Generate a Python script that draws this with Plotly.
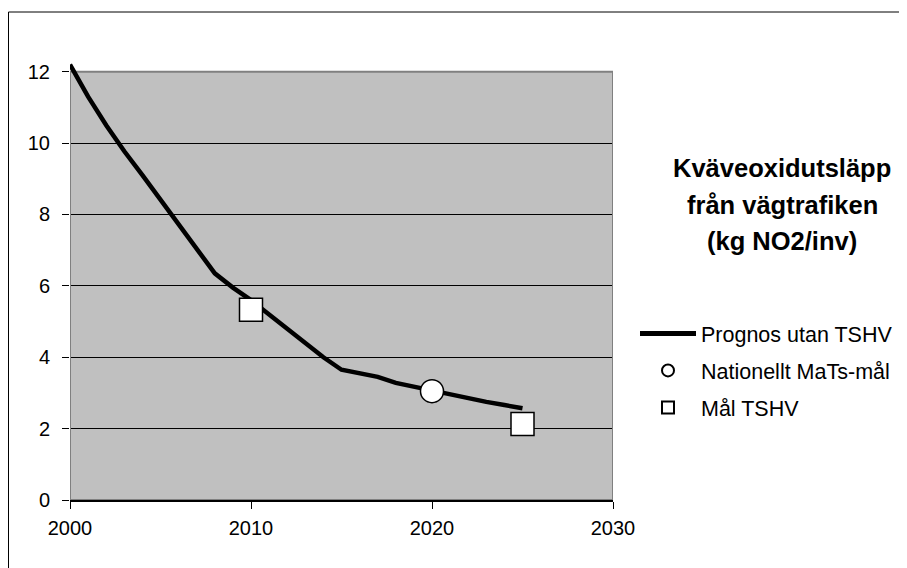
import plotly.graph_objects as go

years = [2000, 2001, 2002, 2003, 2004, 2005, 2006, 2007, 2008, 2009, 2010, 2011, 2012,
         2013, 2014, 2015, 2016, 2017, 2018, 2019, 2020, 2021, 2022, 2023, 2024, 2025]
prognos = [12.2, 11.3, 10.5, 9.77, 9.1, 8.4, 7.7, 7.05, 6.35, 5.95, 5.6, 5.2, 4.8,
           4.4, 4.0, 3.65, 3.55, 3.45, 3.28, 3.17, 3.05, 2.95, 2.84, 2.75, 2.66, 2.57]
mats_year = [2020]
mats_val = [3.05]
tshv_year = [2010, 2025]
tshv_val = [5.33, 2.13]
x_ticks = [2000, 2010, 2020, 2030]
y_ticks = [0, 2, 4, 6, 8, 10, 12]
title_lines = ["Kväveoxidutsläpp", "från vägtrafiken", "(kg NO2/inv)"]

FONT = "Liberation Sans, Arial, sans-serif"
OFF = 8  # page body margin

fig = go.Figure()
fig.add_trace(go.Scatter(x=years, y=prognos, mode="lines", name="Prognos utan TSHV",
                         line=dict(color="black", width=4.5), legendgroup="a",
                         cliponaxis=False))
fig.add_trace(go.Scatter(x=mats_year, y=mats_val, mode="markers", name="Nationellt MaTs-mål",
                         marker=dict(symbol="circle", size=23, color="white",
                                     line=dict(color="black", width=1.5)),
                         legendgroup="b", cliponaxis=False))
fig.add_trace(go.Scatter(x=tshv_year, y=tshv_val, mode="markers", name="Mål TSHV",
                         marker=dict(symbol="square", size=23, color="white",
                                     line=dict(color="black", width=1.5)),
                         legendgroup="c", cliponaxis=False))

W, H = 907 - OFF, 568 - OFF
# plot area in page coordinates
left, right, top, bottom = 70, 613, 61, 500
pw, ph = right - left, bottom - top

def px(p):
    return (p - left) / pw

def py(p):
    return (bottom - p) / ph

shapes = [
    dict(type="rect", xref="x", yref="y", x0=2000, x1=2030, y0=0, y1=12,
         fillcolor="#C0C0C0", line=dict(width=0), layer="below"),
    dict(type="rect", xref="x", yref="y", x0=2000, x1=2030, y0=0, y1=12,
         fillcolor="rgba(0,0,0,0)", line=dict(color="#808080", width=2), layer="between"),
    dict(type="line", xref="paper", yref="paper", x0=px(8.5), x1=px(920), y0=py(12), y1=py(12),
         line=dict(color="black", width=1)),
    dict(type="line", xref="paper", yref="paper", x0=px(8.5), x1=px(8.5), y0=py(12), y1=py(580),
         line=dict(color="black", width=1)),
]

annotations = []
for t, yc in zip(title_lines, [168, 205, 241]):
    annotations.append(dict(text="<b>" + t + "</b>", xref="paper", yref="paper",
                            x=px(782), y=py(yc), xanchor="center", yanchor="middle",
                            showarrow=False, font=dict(family=FONT, size=25.5, color="black")))

fig.update_layout(
    width=W, height=H,
    margin=dict(l=left - OFF, r=W - (right - OFF), t=top - OFF, b=H - (bottom - OFF),
                autoexpand=False),
    paper_bgcolor="white", plot_bgcolor="white",
    font=dict(family=FONT, size=20, color="black"),
    shapes=shapes, annotations=annotations,
    showlegend=True,
    legend=dict(x=px(635), y=py(313), xanchor="left", yanchor="top",
                traceorder="grouped", tracegroupgap=6, itemsizing="constant",
                itemwidth=56,
                font=dict(family=FONT, size=21.5, color="black"),
                bgcolor="rgba(0,0,0,0)", borderwidth=0),
    xaxis=dict(range=[2000, 2030], tickvals=x_ticks, ticks="outside", ticklen=7,
               tickcolor="black", showgrid=False, zeroline=False, showline=True,
               linecolor="black", linewidth=1.5, tickfont=dict(size=20),
               ticklabelstandoff=2),
    yaxis=dict(range=[0, 12.3], tickvals=y_ticks, ticks="outside", ticklen=7,
               tickcolor="black", showgrid=True, gridcolor="black", gridwidth=1,
               zeroline=False, showline=False, tickfont=dict(size=20),
               ticklabelstandoff=8),
)

fig.write_html("out.html")
